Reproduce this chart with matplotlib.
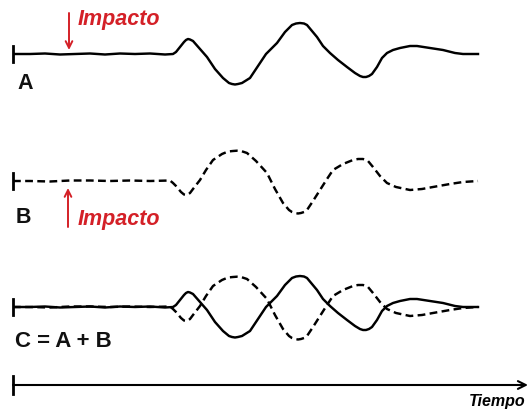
import matplotlib
matplotlib.use("Agg")
import matplotlib.pyplot as plt

plt.rcParams["font.family"] = ["Liberation Sans", "DejaVu Sans"]

# Waveform A (solid): time samples and amplitude
time_a = [0, 17, 32, 47, 62, 77, 92, 107, 122, 137, 152, 160, 163, 167, 171, 173,
          175, 177, 180, 187, 194, 202, 210, 216, 219, 222, 225, 229, 237, 245, 253,
          264, 272, 279, 283, 287, 291, 294, 304, 310, 317, 325, 334, 342, 347, 350,
          353, 356, 359, 364, 369, 374, 380, 387, 397, 404, 417, 430, 442, 450, 465]
amp_a = [0, 0, 0.5, -0.5, 0, 0.5, -0.5, 0.5, 0, 0.5, -0.5, 0, 2, 7, 12, 14,
         15, 14.5, 13, 5, -3, -15, -24, -29, -30, -30.5, -30, -29, -24, -12, 0,
         11, 22, 29, 30.5, 31, 30.5, 29, 17, 8, 1, -6, -13, -19, -22, -23,
         -23, -22, -20, -13, -4, 1, 4, 6, 8, 8, 6, 4, 1, 0, 0]

# Waveform B (dashed): time samples and amplitude
time_b = [0, 17, 37, 57, 77, 97, 117, 137, 157, 160, 163, 168, 171, 174, 177, 180,
          187, 193, 200, 209, 215, 220, 224, 228, 234, 243, 254, 262, 270, 276, 279,
          282, 285, 288, 291, 294, 300, 307, 314, 320, 330, 340, 345, 350, 353, 355,
          360, 367, 374, 383, 397, 409, 420, 437, 450, 465]
amp_b = [0, 0, -0.5, 0.5, 0.5, 0, 0.5, 0, 0.5, -2, -5, -11, -13.5, -14, -12, -8,
         1, 11, 21, 27, 29.5, 30, 30.3, 30, 28, 20, 8, -8, -22, -29, -31,
         -32, -32.5, -32, -31, -29, -20, -9, 2, 11, 17, 21, 22, 22, 21, 20,
         14, 5, -2, -6, -9, -8, -6, -3, -1, 0]

panel_labels = ["A", "B", "C = A + B"]
impact_label = "Impacto"
time_label = "Tiempo"

W, H = 528, 412
X0 = 13          # left edge of the time axis, px
HALF = 45        # half height of each trace panel, px
RED = "#d42027"
LW = 1.75
DASH = (0, (3.2, 1.8))

fig = plt.figure(figsize=(W / 100, H / 100), dpi=100)
fig.patch.set_facecolor("white")


def trace_axes(baseline_px):
    ax = fig.add_axes([X0 / W, (H - baseline_px - HALF) / H,
                       (W - X0) / W, 2 * HALF / H])
    ax.set_xlim(0, W - X0)
    ax.set_ylim(-HALF, HALF)
    ax.patch.set_alpha(0)
    for side in ("top", "right", "bottom"):
        ax.spines[side].set_visible(False)
    ax.spines["left"].set_position(("data", 0))
    ax.spines["left"].set_bounds(-8, 8)
    ax.spines["left"].set_linewidth(2)
    ax.set_xticks([])
    ax.set_yticks([])
    return ax


ax_a = trace_axes(54)
ax_b = trace_axes(181)
ax_c = trace_axes(307)

ax_a.plot(time_a, amp_a, color="black", lw=LW, solid_joinstyle="round")
ax_b.plot(time_b, amp_b, color="black", lw=LW, linestyle=DASH)
ax_c.plot(time_a, amp_a, color="black", lw=LW, solid_joinstyle="round")
ax_c.plot(time_b, amp_b, color="black", lw=LW, linestyle=DASH)

# Impact markers
arrow_kw = dict(arrowstyle="->", color=RED, lw=1.4, shrinkA=0, shrinkB=0,
                mutation_scale=12)
ax_a.annotate("", xy=(56, 4), xytext=(56, 41), arrowprops=arrow_kw)
ax_a.text(65, 29, impact_label, color=RED, fontsize=15.5, fontweight="bold",
          fontstyle="italic", va="baseline", ha="left")
ax_b.annotate("", xy=(55, -7), xytext=(55, -46), arrowprops=arrow_kw,
              annotation_clip=False)
ax_b.text(65, -44, impact_label, color=RED, fontsize=15.5, fontweight="bold",
          fontstyle="italic", va="baseline", ha="left")

# Panel labels
label_pos = [(17, 89), (16, 223), (15, 347)]
label_size = [15.5, 15.5, 16]
for text, (px, py), fs in zip(panel_labels, label_pos, label_size):
    fig.text(px / W, 1 - py / H, text, fontsize=fs, color="#111111",
             fontweight="bold", ha="left", va="baseline")

# Time axis with arrow
ax_t = fig.add_axes([X0 / W, (H - 385 - 10) / H, (W - X0) / W, 20 / H])
ax_t.set_xlim(0, W - X0)
ax_t.set_ylim(-1, 1)
ax_t.patch.set_alpha(0)
for side in ("top", "right", "bottom"):
    ax_t.spines[side].set_visible(False)
ax_t.spines["left"].set_position(("data", 0))
ax_t.spines["left"].set_bounds(-0.9, 0.9)
ax_t.spines["left"].set_linewidth(2)
ax_t.set_xticks([])
ax_t.set_yticks([])
ax_t.annotate("", xy=(1.0, 0.5), xytext=(0, 0.5), xycoords="axes fraction",
              arrowprops=dict(arrowstyle="->", color="black", lw=1.5,
                              shrinkA=0, shrinkB=0, mutation_scale=14))
fig.text(525 / W, 1 - 406 / H, time_label, fontsize=11.5, fontweight="bold",
         fontstyle="italic", ha="right", va="baseline")

fig.savefig("out.png", dpi=100, facecolor="white")
